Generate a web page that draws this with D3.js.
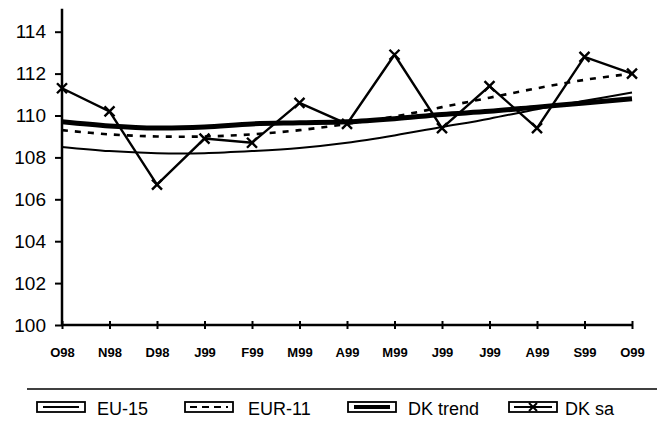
<!DOCTYPE html>
<html><head><meta charset="utf-8">
<script src="https://cdn.jsdelivr.net/npm/d3@7"></script>
<style>body{margin:0;background:#fff}svg{display:block}</style>
</head><body>
<svg id="c" width="658" height="424"></svg>
<script>
const months = ["O98","N98","D98","J99","F99","M99","A99","M99","J99","J99","A99","S99","O99"];
const eu15   = [108.5,108.3,108.2,108.2,108.3,108.45,108.7,109.05,109.45,109.85,110.3,110.7,111.1];
const eur11  = [109.3,109.1,109.0,109.0,109.1,109.3,109.6,109.95,110.4,110.85,111.3,111.7,112.0];
const dkTrend= [109.7,109.5,109.4,109.45,109.6,109.65,109.7,109.85,110.05,110.2,110.4,110.6,110.8];
const dkSa   = [111.3,110.2,106.7,108.9,108.7,110.6,109.6,112.9,109.4,111.4,109.4,112.8,112.0];
const yTicks = [100,102,104,106,108,110,112,114];
const legendLabels = ["EU-15","EUR-11","DK trend","DK sa"];

const svg = d3.select("#c");
const x = d3.scaleLinear().domain([0, months.length-1]).range([62, 632]);
const y = d3.scaleLinear().domain([100, 114]).range([325, 31.7]);
const font = "Arial, 'Liberation Sans', Helvetica, sans-serif";

// Y axis
const yAxis = svg.append("g").attr("transform","translate(62,0)")
  .call(d3.axisLeft(y).tickValues(yTicks).tickSize(7).tickPadding(9).tickFormat(d3.format("d")));
yAxis.select(".domain").remove();
yAxis.selectAll(".tick line").attr("stroke","#000").attr("stroke-width",2);
yAxis.selectAll(".tick text").attr("font-family",font).attr("font-size",19).attr("fill","#000");
svg.append("line").attr("x1",62).attr("x2",62).attr("y1",y(115.1)).attr("y2",y(100)+1)
  .attr("stroke","#000").attr("stroke-width",2.5);

// X axis
const xAxis = svg.append("g").attr("transform","translate(0,325)")
  .call(d3.axisBottom(x).tickValues(d3.range(months.length)).tickSize(4).tickPadding(19).tickFormat(i=>months[i]));
xAxis.select(".domain").remove();
xAxis.selectAll(".tick line").attr("y1",-4).attr("stroke","#000").attr("stroke-width",2);
xAxis.selectAll(".tick text").attr("font-family",font).attr("font-size",13).attr("font-weight","bold").attr("fill","#000");
svg.append("line").attr("x1",62).attr("x2",632).attr("y1",325).attr("y2",325)
  .attr("stroke","#000").attr("stroke-width",2.5);

const smooth = d3.line().x((d,i)=>x(i)).y(d=>y(d)).curve(d3.curveCatmullRom);
const straight = d3.line().x((d,i)=>x(i)).y(d=>y(d));

svg.append("path").attr("d",smooth(eu15)).attr("fill","none").attr("stroke","#000").attr("stroke-width",2);
svg.append("path").attr("d",smooth(eur11)).attr("fill","none").attr("stroke","#000").attr("stroke-width",2.6).attr("stroke-dasharray","6,7");
svg.append("path").attr("d",smooth(dkTrend)).attr("fill","none").attr("stroke","#000").attr("stroke-width",5);
svg.append("path").attr("d",straight(dkSa)).attr("fill","none").attr("stroke","#000").attr("stroke-width",2.4);
const m = 5;
svg.append("g").selectAll("path").data(dkSa).join("path")
  .attr("d",(d,i)=>{const cx=x(i), cy=y(d); return `M${cx-m},${cy-m}L${cx+m},${cy+m}M${cx-m},${cy+m}L${cx+m},${cy-m}`;})
  .attr("stroke","#000").attr("stroke-width",2.4);

// Legend
svg.append("line").attr("x1",27).attr("x2",657).attr("y1",389).attr("y2",389).attr("stroke","#000").attr("stroke-width",1.5);
const boxes = [37,185,348,509];
const texts = [97,248,408,565];
const lg = svg.append("g");
legendLabels.forEach((lab,k)=>{
  const bx = boxes[k], bw = 48, by = 402, bh = 10;
  lg.append("rect").attr("x",bx).attr("y",by).attr("width",bw).attr("height",bh)
    .attr("fill","none").attr("stroke","#000").attr("stroke-width",1.8);
  const ly = by + bh/2;
  if (k===0) lg.append("line").attr("x1",bx+6).attr("x2",bx+bw-6).attr("y1",ly).attr("y2",ly).attr("stroke","#000").attr("stroke-width",2);
  if (k===1) lg.append("line").attr("x1",bx+5).attr("x2",bx+bw-5).attr("y1",ly).attr("y2",ly).attr("stroke","#000").attr("stroke-width",2).attr("stroke-dasharray","7,5");
  if (k===2) lg.append("line").attr("x1",bx+6).attr("x2",bx+bw-6).attr("y1",ly).attr("y2",ly).attr("stroke","#000").attr("stroke-width",4);
  if (k===3) {
    lg.append("line").attr("x1",bx+5).attr("x2",bx+bw-5).attr("y1",ly).attr("y2",ly).attr("stroke","#000").attr("stroke-width",2);
    const cx = bx+bw/2;
    lg.append("path").attr("d",`M${cx-4},${ly-4}L${cx+4},${ly+4}M${cx-4},${ly+4}L${cx+4},${ly-4}`).attr("stroke","#000").attr("stroke-width",2);
  }
  lg.append("text").attr("x",texts[k]).attr("y",415).attr("font-family",font).attr("font-size",18).attr("fill","#000").text(lab);
});
</script>
</body></html>
